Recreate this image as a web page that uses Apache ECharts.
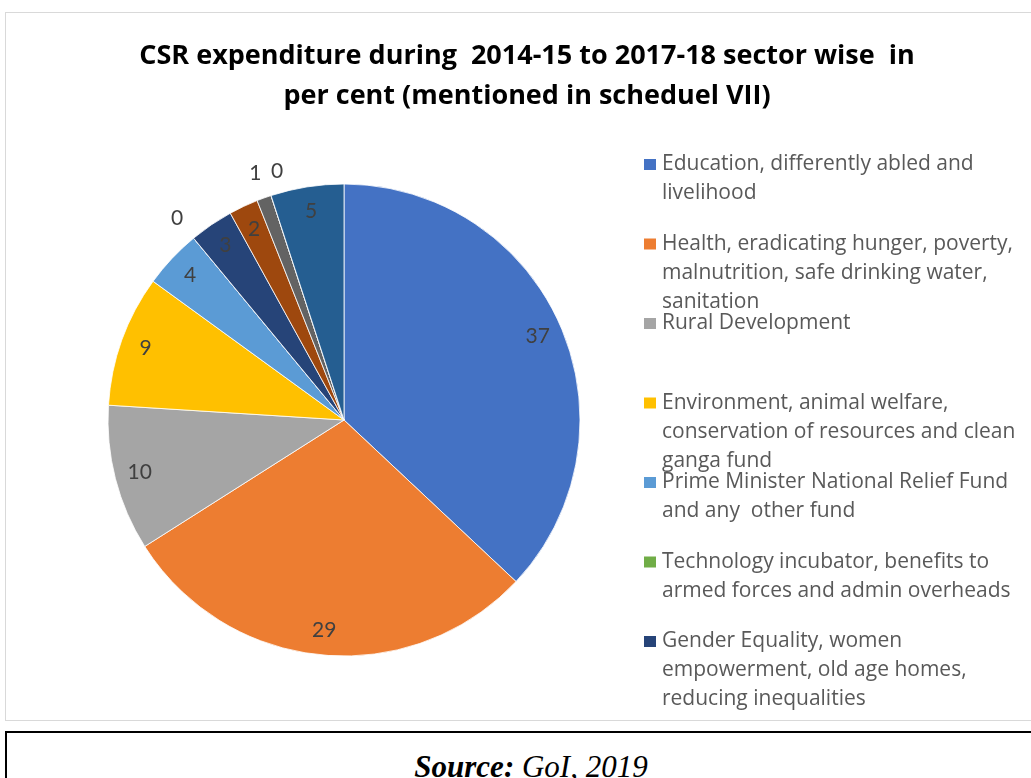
<!DOCTYPE html>
<html>
<head>
<meta charset="utf-8">
<title>CSR expenditure sector wise</title>
<script src="https://cdn.jsdelivr.net/npm/echarts@6/dist/echarts.min.js"></script>
<style>
  html, body { margin: 0; padding: 0; background: #fff; width: 1031px; height: 778px; overflow: hidden; }
  #frame { position: absolute; left: 5px; top: 12px; width: 1080px; height: 707px; border: 1px solid #d9d9d9; }
  #chart { position: absolute; left: 0; top: 0; width: 1054px; height: 720px; }
  #source { position: absolute; left: 5px; top: 731px; width: 1080px; height: 80px; border: 2px solid #000; }
  #source p { position: absolute; margin: 0; left: -5px; top: 18px; width: 1058px; text-align: center;
              font-family: "Liberation Serif", "DejaVu Serif", serif; font-style: italic; font-size: 31px;
              line-height: 31px; color: #000; }
</style>
</head>
<body>
<div id="frame"></div>
<div id="chart"></div>
<div id="source"><p><b>Source:</b> GoI, 2019</p></div>
<script>
// Sectors (Schedule VII heads), shares in per cent
const sectors = [
  'Education, differently abled and livelihood',
  'Health, eradicating hunger, poverty, malnutrition, safe drinking water, sanitation',
  'Rural Development',
  'Environment, animal welfare, conservation of resources and clean ganga fund',
  'Prime Minister National Relief Fund and any  other fund',
  'Technology incubator, benefits to armed forces and admin overheads',
  'Gender Equality, women empowerment, old age homes, reducing inequalities',
  'Heritage, art and culture',
  'Slum area development',
  'Sports',
  'Other sectors'
];
const shares = [37, 29, 10, 9, 4, 0, 3, 2, 1, 0, 5];
const palette = ['#4472C4', '#ED7D31', '#A5A5A5', '#FFC000', '#5B9BD5', '#70AD47',
                 '#264478', '#9E480E', '#636363', '#997300', '#255E91'];

// Wrapped legend entries (first seven heads are listed)
const legendLines = [
  ['Education, differently abled and', 'livelihood'],
  ['Health, eradicating hunger, poverty,', 'malnutrition, safe drinking water,', 'sanitation'],
  ['Rural Development'],
  ['Environment, animal welfare,', 'conservation of resources and clean', 'ganga fund'],
  ['Prime Minister National Relief Fund', 'and any  other fund'],
  ['Technology incubator, benefits to', 'armed forces and admin overheads'],
  ['Gender Equality, women', 'empowerment, old age homes,', 'reducing inequalities']
];
const titleLines = ['CSR expenditure during  2014-15 to 2017-18 sector wise  in',
                    'per cent (mentioned in scheduel VII)'];

const chart = echarts.init(document.getElementById('chart'), null, { renderer: 'canvas' });

const CENTER = [344, 420];
const R = 236;
const LINE_H = 29;
const LEGEND_FIRST = 164.5;
const LEGEND_STEP = 79.5;

const labelFont = { fontFamily: 'Lato', fontSize: 21, color: '#404040' };

// Each entry is its own legend so the rows keep an even pitch; leading blank
// lines keep the swatch level with the first line of a wrapped entry.
const legends = legendLines.map((lines, i) => {
  const n = lines.length;
  return {
    data: [sectors[i]],
    orient: 'vertical',
    left: 642,
    top: LEGEND_FIRST + i * LEGEND_STEP - (2 * n - 1) * LINE_H / 2,
    padding: 0,
    itemWidth: 14,
    itemHeight: 13,
    icon: 'rect',
    selectedMode: false,
    formatter: () => '\n'.repeat(n - 1) + lines.join('\n'),
    textStyle: {
      fontFamily: 'Open Sans', fontSize: 21, color: '#595959', lineHeight: LINE_H,
      backgroundColor: 'transparent'
    }
  };
});

// small sideways nudges for labels of adjoining thin slices
const outerNudge = { 9: [14, 0] };

const option = {
  animation: false,
  backgroundColor: 'transparent',
  title: {
    text: titleLines.join('\n'),
    left: 'center',
    top: 36,
    padding: 0,
    textStyle: { fontFamily: 'Open Sans', fontWeight: 'bold', fontSize: 27, lineHeight: 40, color: '#000' }
  },
  legend: legends,
  series: [
    {
      // the pie itself
      type: 'pie',
      center: CENTER,
      radius: [0, R],
      startAngle: 90,
      clockwise: true,
      silent: true,
      label: { show: false },
      labelLine: { show: false },
      itemStyle: { borderColor: '#ffffff', borderWidth: 0.8 },
      data: sectors.map((name, i) => ({ name, value: shares[i], itemStyle: { color: palette[i] } }))
    },
    {
      // value labels inside the rim
      type: 'pie',
      center: CENTER,
      radius: [R - 56, R],
      startAngle: 90,
      clockwise: true,
      silent: true,
      itemStyle: { color: 'transparent', borderWidth: 0 },
      labelLine: { show: false },
      label: Object.assign({ position: 'inside', formatter: '{c}' }, labelFont),
      data: sectors.map((name, i) => ({ name, value: shares[i], label: { show: shares[i] > 1 } }))
    },
    {
      // value labels for the thinnest slices, just outside the rim
      type: 'pie',
      center: CENTER,
      radius: [R, R + 46],
      startAngle: 90,
      clockwise: true,
      silent: true,
      itemStyle: { color: 'transparent', borderWidth: 0 },
      labelLine: { show: false },
      label: Object.assign({ position: 'inside', formatter: '{c}' }, labelFont),
      data: sectors.map((name, i) => ({
        name, value: shares[i],
        label: { show: shares[i] <= 1, offset: outerNudge[i] || [0, 0] }
      }))
    }
  ]
};

chart.setOption(option);
</script>
</body>
</html>
